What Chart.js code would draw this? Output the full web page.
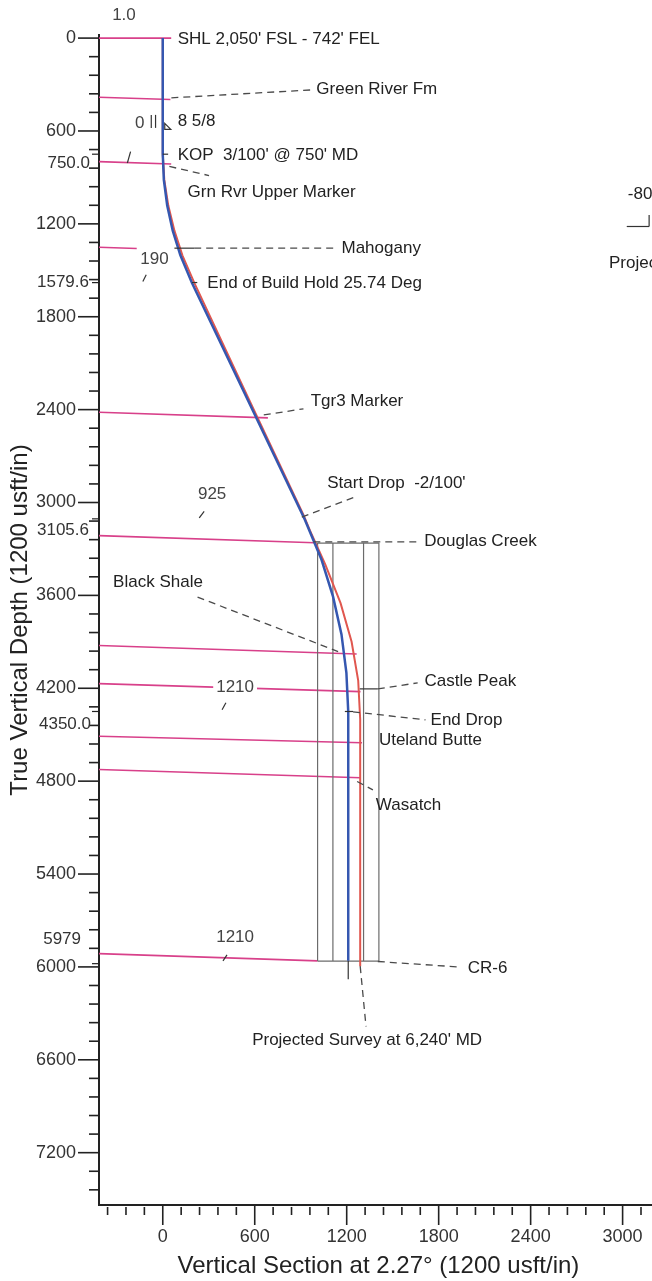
<!DOCTYPE html>
<html>
<head>
<meta charset="utf-8">
<title>Vertical Section</title>
<script src="https://cdn.jsdelivr.net/npm/chart.js@4.4.1/dist/chart.umd.min.js"></script>
<style>
    html, body { margin: 0; padding: 0; background: #fff; overflow: hidden; }
    #wrap { width: 662px; height: 1281px; }
</style>
</head>
<body>
<div id="wrap"><canvas id="sectionChart" width="662" height="1281"></canvas></div>
<script>
// plan wellbore (blue): vertical section vs TVD, ft
var planVS  = [0, 0, 7, 29, 65, 115, 190, 925, 1036, 1111, 1166, 1198, 1210, 1210];
var planTVD = [0, 750, 916, 1082, 1244, 1403, 1580, 3106, 3370, 3608, 3852, 4100, 4350, 5960];

// survey / projection (red)
var surveyVS  = [0, 0, 10, 36, 76, 128, 205, 560, 918, 960, 1060, 1160, 1232, 1275, 1288, 1288];
var surveyTVD = [0, 750, 916, 1082, 1244, 1403, 1580, 2330, 3080, 3180, 3400, 3650, 3900, 4150, 4400, 5995];

// formation tops (pink, dipping slightly)
var formNames    = ["SHL", "Green River Fm", "Grn Rvr Upper Marker", "Mahogany", "Tgr3 Marker", "Douglas Creek",
                    "Black Shale", "Castle Peak", "Uteland Butte", "Wasatch", "CR-6"];
var formLeftTVD  = [0, 382, 798, 1351, 2417, 3214, 3924, 4170, 4510, 4725, 5914];
var formEndVS    = [55, 50, 55, -170, 686, 990, 1265, 1290, 1300, 1290, 1010];
var formEndTVD   = [0, 397, 813, 1359, 2453, 3260, 3979, 4222, 4552, 4778, 5961];

// target window lines
var boxVS = [1010, 1110, 1310, 1410];
var boxTopTVD = 3262;
var boxBottomTVD = 5962;

// axis ticks
var xMin = -416, xMax = 3230;
var yMin = -20, yMax = 7538;
var minorStep = 120, majorStep = 600;
var ySpecialTicks = [750.0, 1579.6, 3105.6, 4350.0, 5979];
var ySpecialLabels = ["750.0", "1579.6", "3105.6", "4350.0", "5979"];

// annotation text (left anchored), data coords
var noteText = ["SHL 2,050' FSL - 742' FEL", "Green River Fm", "8 5/8", "KOP  3/100' @ 750' MD",
                "Grn Rvr Upper Marker", "Mahogany", "End of Build Hold 25.74 Deg", "Tgr3 Marker",
                "Start Drop  -2/100'", "Douglas Creek", "Black Shale", "Castle Peak", "End Drop",
                "Uteland Butte", "Wasatch", "CR-6", "Projected Survey at 6,240' MD", "-80", "Projected"];
var noteVS  = [97, 1002, 97, 97, 162, 1166, 291, 965, 1073, 1706, -324, 1708, 1747, 1410, 1390, 1990, 583, 3034, 2911];
var noteTVD = [5, 334, 539, 760, 999, 1361, 1587, 2348, 2875, 3252, 3517, 4158, 4404, 4539, 4959, 6010, 6475, 1012, 1454];

// centred value labels
var valueText = ["1.0", "0", "190", "925", "1210", "1210"];
var valueVS   = [-253, -151, -54, 322, 472, 472];
var valueTVD  = [-150, 548, 1432, 2950, 4197, 5812];

// dashed leaders [vs1, tvd1, vs2, tvd2]
var leaderLines = [
    [56, 386, 982, 334],
    [43, 829, 302, 888],
    [205, 1357, 1112, 1357],
    [659, 2434, 918, 2395],
    [907, 3094, 1263, 2961],
    [982, 3254, 1676, 3254],
    [227, 3611, 1144, 3963],
    [1403, 4204, 1663, 4165],
    [1241, 4352, 1714, 4404],
    [1268, 4802, 1371, 4856],
    [1403, 5965, 1941, 6001],
    [1288, 5995, 1326, 6385]
];

// short solid marks: stubs on the well path, slashes under values, casing, etc.
var markLines = [
    [0, 750, 35, 750],
    [190, 1579, 225, 1579],
    [76, 1357, 205, 1357],
    [1285, 4204, 1403, 4204],
    [1188, 4350, 1241, 4350],
    [1210, 5960, 1210, 6079],
    [-231, 807, -210, 733],
    [-130, 1572, -108, 1529],
    [238, 3099, 270, 3058],
    [387, 4339, 412, 4294],
    [393, 5961, 419, 5922],
    [-75, 496, -75, 580],
    [-47, 496, -47, 580],
    [3173, 1142, 3173, 1217],
    [3027, 1217, 3173, 1217]
];

var FONT = "Arial, 'Liberation Sans', sans-serif";

function toPoints(xs, ys) {
    return xs.map(function (x, i) { return { x: x, y: ys[i] }; });
}

function lineSet(points, color, width) {
    return {
        data: points,
        showLine: true,
        borderColor: color,
        borderWidth: width,
        pointRadius: 0,
        fill: false,
        tension: 0
    };
}

// Chart.js paints the first dataset on top, so the plan goes first
var datasets = [];
datasets.push(lineSet(toPoints(planVS, planTVD), "#3557b0", 2.5));
datasets.push(lineSet(toPoints(surveyVS, surveyTVD), "#e0574f", 2));

boxVS.forEach(function (vs) {
    datasets.push(lineSet([{ x: vs, y: boxTopTVD }, { x: vs, y: boxBottomTVD }], "#6b6b6b", 1.2));
});
datasets.push(lineSet([{ x: boxVS[0], y: boxTopTVD }, { x: boxVS[3], y: boxTopTVD }], "#6b6b6b", 1.2));
datasets.push(lineSet([{ x: boxVS[0], y: boxBottomTVD }, { x: boxVS[3], y: boxBottomTVD }], "#6b6b6b", 1.2));

formNames.forEach(function (name, i) {
    datasets.push(lineSet([{ x: xMin, y: formLeftTVD[i] }, { x: formEndVS[i], y: formEndTVD[i] }], "#d8408a", 1.6));
});

function makeTicks(min, max) {
    var out = [];
    var start = Math.ceil(min / minorStep) * minorStep;
    for (var v = start; v <= max; v += minorStep) out.push({ value: v });
    return out;
}

var decorPlugin = {
    id: "sectionDecor",
    afterDraw: function (chart) {
        var ctx = chart.ctx;
        var xs = chart.scales.x, ys = chart.scales.y;
        var area = chart.chartArea;

        function seg(x1, y1, x2, y2) {
            ctx.beginPath();
            ctx.moveTo(x1, y1);
            ctx.lineTo(x2, y2);
            ctx.stroke();
        }
        function dataSeg(l) {
            seg(xs.getPixelForValue(l[0]), ys.getPixelForValue(l[1]), xs.getPixelForValue(l[2]), ys.getPixelForValue(l[3]));
        }

        ctx.save();

        // tick marks
        ctx.strokeStyle = "#222";
        ctx.lineWidth = 1.6;
        ys.ticks.forEach(function (t) {
            var y = ys.getPixelForValue(t.value);
            var len = t.value % majorStep === 0 ? 21 : 10;
            seg(area.left - len, y, area.left, y);
        });
        xs.ticks.forEach(function (t) {
            var x = xs.getPixelForValue(t.value);
            if (t.value % majorStep === 0) seg(x, area.bottom, x, area.bottom + 20);
            else seg(x, area.bottom + 2, x, area.bottom + 10);
        });

        // special depth labels on the TVD axis
        var shift = [9, 0, 11, 13, -24];
        var gap = [9, 10, 10, 8, 18];
        ctx.fillStyle = "#333";
        ctx.font = "17px " + FONT;
        ctx.textAlign = "right";
        ctx.textBaseline = "middle";
        ySpecialTicks.forEach(function (v, i) {
            var y = ys.getPixelForValue(v);
            ctx.lineWidth = 1.2;
            seg(area.left - 7, y, area.left, y);
            ctx.fillText(ySpecialLabels[i], area.left - gap[i], y + shift[i]);
        });

        // dashed leaders
        ctx.strokeStyle = "#4a4a4a";
        ctx.lineWidth = 1.3;
        ctx.setLineDash([7, 5]);
        leaderLines.forEach(dataSeg);
        ctx.setLineDash([]);

        // solid marks
        ctx.strokeStyle = "#333";
        ctx.lineWidth = 1.2;
        markLines.forEach(dataSeg);

        // casing shoe
        var cx = xs.getPixelForValue(0), cy = ys.getPixelForValue(590);
        ctx.beginPath();
        ctx.moveTo(cx + 2, cy - 6);
        ctx.lineTo(cx + 2, cy);
        ctx.lineTo(cx + 8, cy);
        ctx.closePath();
        ctx.stroke();

        // annotation text
        ctx.fillStyle = "#222";
        ctx.font = "17px " + FONT;
        ctx.textAlign = "left";
        ctx.textBaseline = "middle";
        noteText.forEach(function (txt, i) {
            ctx.fillText(txt, xs.getPixelForValue(noteVS[i]), ys.getPixelForValue(noteTVD[i]));
        });

        ctx.textAlign = "center";
        ctx.fillStyle = "#444";
        valueText.forEach(function (txt, i) {
            var x = xs.getPixelForValue(valueVS[i]), y = ys.getPixelForValue(valueTVD[i]);
            if (i === 4) {
                var w = ctx.measureText(txt).width;
                ctx.fillStyle = "#fff";
                ctx.fillRect(x - w / 2 - 3, y - 9, w + 6, 18);
                ctx.fillStyle = "#444";
            }
            ctx.fillText(txt, x, y);
        });

        ctx.restore();
    }
};

var ctx = document.getElementById("sectionChart").getContext("2d");
new Chart(ctx, {
    type: "scatter",
    data: { datasets: datasets },
    options: {
        responsive: false,
        animation: false,
        events: [],
        layout: { padding: { top: 35, right: 0, bottom: 0, left: 0 } },
        plugins: {
            legend: { display: false },
            tooltip: { enabled: false }
        },
        scales: {
            x: {
                type: "linear",
                position: "bottom",
                min: xMin,
                max: xMax,
                afterBuildTicks: function (scale) { scale.ticks = makeTicks(xMin, xMax); },
                afterFit: function (scale) { scale.height = 76; },
                grid: { display: false, drawTicks: false },
                border: { display: true, color: "#222", width: 2 },
                ticks: {
                    autoSkip: false,
                    maxRotation: 0,
                    padding: 21,
                    color: "#333",
                    font: { family: FONT, size: 18 },
                    callback: function (v) { return v % majorStep === 0 ? String(v) : ""; }
                },
                title: {
                    display: true,
                    text: "Vertical Section at 2.27° (1200 usft/in)",
                    color: "#222",
                    font: { family: FONT, size: 24 },
                    padding: { top: 0, bottom: 0 }
                }
            },
            y: {
                type: "linear",
                reverse: true,
                min: yMin,
                max: yMax,
                afterBuildTicks: function (scale) { scale.ticks = makeTicks(0, 7440); },
                afterFit: function (scale) { scale.width = 99; },
                grid: { display: false, drawTicks: false },
                border: { display: true, color: "#222", width: 2 },
                ticks: {
                    autoSkip: false,
                    padding: 23,
                    color: "#333",
                    font: { family: FONT, size: 18 },
                    callback: function (v) { return v % majorStep === 0 ? String(v) : ""; }
                },
                title: {
                    display: true,
                    text: "True Vertical Depth (1200 usft/in)",
                    color: "#222",
                    font: { family: FONT, size: 24 },
                    padding: { top: 6, bottom: 0 }
                }
            }
        }
    },
    plugins: [decorPlugin]
});
</script>
</body>
</html>
